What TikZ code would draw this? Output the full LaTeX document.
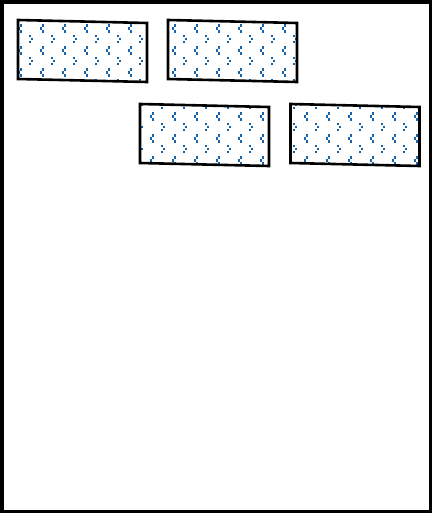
\documentclass[tikz,border=0pt]{standalone}
\definecolor{patblue}{RGB}{24,100,168}
\begin{document}
\begin{tikzpicture}[x=1pt,y=-1pt,
  frame/.style={draw=black,line width=3.5pt},
  box/.style={draw=black,line width=2.6pt,line join=miter},
  dotsq/.style={fill=patblue}]
\useasboundingbox (0,0) rectangle (432,514);
\fill[white] (0,0) rectangle (432,514);
\draw[frame] (1.75,1.75) rectangle (430.25,511.5);
\foreach \ox/\oy/\ia/\ib/\ja/\jb in {18/20/0/6/0/3, 168/20/7/13/0/3, 140/104/6/12/4/7, 290.5/104/12/19/4/7}{
  \begin{scope}
    \clip (\ox,\oy) -- ++(129,3) -- ++(0,59) -- ++(-129,-3) -- cycle;
    \foreach \i in {\ia,...,\ib}{
      \foreach \j in {\ja,...,\jb}{
        % "<" mark
        \begin{scope}[shift={(20+22*\i,6.3+22*\j)}]
          \fill[dotsq] (-0.2,-4.3) rectangle (2.3,-1.8);
          \fill[dotsq] (-2.3,-1.25) rectangle (0.2,1.25);
          \fill[dotsq] (-0.2,1.8) rectangle (2.3,4.3);
        \end{scope}
        % ">" mark
        \begin{scope}[shift={(9+22*\i,17+22*\j)}]
          \fill[dotsq] (-2.3,-4.3) rectangle (0.2,-1.8);
          \fill[dotsq] (-0.2,-1.25) rectangle (2.3,1.25);
          \fill[dotsq] (-2.3,1.8) rectangle (0.2,4.3);
        \end{scope}
      }
    }
  \end{scope}
  \draw[box] (\ox,\oy) -- ++(129,3) -- ++(0,59) -- ++(-129,-3) -- cycle;
}
\end{tikzpicture}
\end{document}
